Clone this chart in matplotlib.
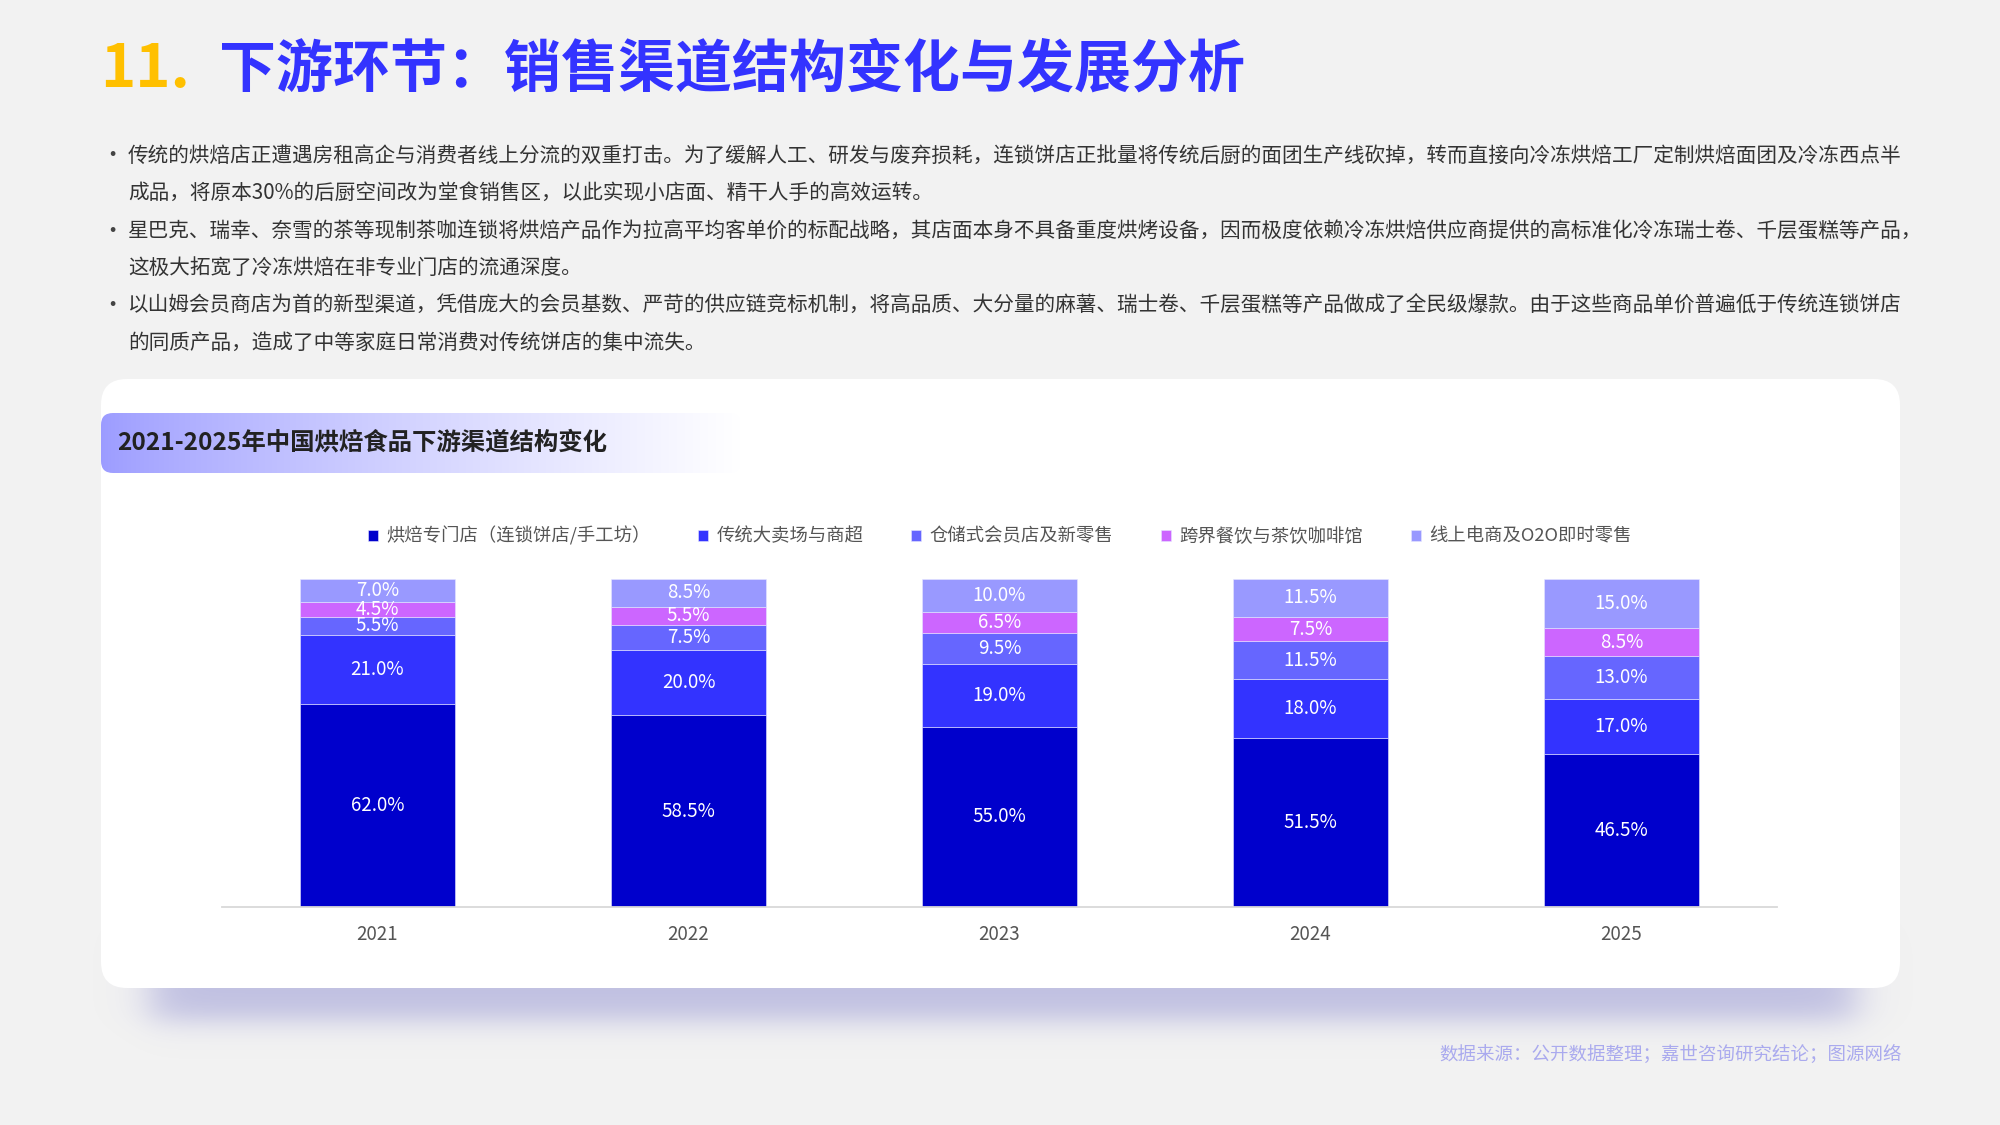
import matplotlib.pyplot as plt
import numpy as np
from matplotlib.patches import FancyBboxPatch

plt.rcParams['font.family'] = ['Noto Sans CJK SC', 'DejaVu Sans']

years = ['2021', '2022', '2023', '2024', '2025']
channels = ['烘焙专门店（连锁饼店/手工坊）', '传统大卖场与商超', '仓储式会员店及新零售',
            '跨界餐饮与茶饮咖啡馆', '线上电商及O2O即时零售']
bakery_store = [62.0, 58.5, 55.0, 51.5, 46.5]
supermarket = [21.0, 20.0, 19.0, 18.0, 17.0]
warehouse_club = [5.5, 7.5, 9.5, 11.5, 13.0]
cafe_tea = [4.5, 5.5, 6.5, 7.5, 8.5]
online_o2o = [7.0, 8.5, 10.0, 11.5, 15.0]
colors = ['#0000CC', '#3333FF', '#6666FF', '#CC66FF', '#9999FF']

bullets = [
    ['传统的烘焙店正遭遇房租高企与消费者线上分流的双重打击。为了缓解人工、研发与废弃损耗，连锁饼店正批量将传统后厨的面团生产线砍掉，转而直接向冷冻烘焙工厂定制烘焙面团及冷冻西点半',
     '成品，将原本30%的后厨空间改为堂食销售区，以此实现小店面、精干人手的高效运转。'],
    ['星巴克、瑞幸、奈雪的茶等现制茶咖连锁将烘焙产品作为拉高平均客单价的标配战略，其店面本身不具备重度烘烤设备，因而极度依赖冷冻烘焙供应商提供的高标准化冷冻瑞士卷、千层蛋糕等产品，',
     '这极大拓宽了冷冻烘焙在非专业门店的流通深度。'],
    ['以山姆会员商店为首的新型渠道，凭借庞大的会员基数、严苛的供应链竞标机制，将高品质、大分量的麻薯、瑞士卷、千层蛋糕等产品做成了全民级爆款。由于这些商品单价普遍低于传统连锁饼店',
     '的同质产品，造成了中等家庭日常消费对传统饼店的集中流失。'],
]

W, H = 2000, 1125
fig = plt.figure(figsize=(20, 11.25), dpi=100, facecolor='#F2F2F2')

# background layer in pixel coordinates (y down)
bg = fig.add_axes([0, 0, 1, 1])
bg.set_xlim(0, W)
bg.set_ylim(H, 0)
bg.axis('off')

# title
bg.text(100, 70, '11.', color='#FFC000', fontsize=43, fontweight='heavy', va='center', ha='left')
bg.text(219, 70, '下游环节：销售渠道结构变化与发展分析', color='#3333FF', fontsize=41,
        fontweight='heavy', va='center', ha='left')

# bullet paragraphs
line_y = [156, 193, 231, 268, 306, 343]
i = 0
for para in bullets:
    bg.text(101, line_y[i], '•', color='#444444', fontsize=16, va='center', ha='left')
    for line in para:
        bg.text(128, line_y[i], line, color='#333333', fontsize=14.85, va='center', ha='left')
        i += 1

# shadow under card
xs = np.arange(W)
ys = np.arange(H)
fx = 0.5 * (np.tanh((xs - 150) / 24) - np.tanh((xs - 1855) / 24))
fy = 0.5 * (np.tanh((ys - 930) / 20) - np.tanh((ys - 1020) / 16))
alpha = np.outer(fy, fx) * 0.5
shadow = np.zeros((H, W, 4))
shadow[..., 0] = 0.56
shadow[..., 1] = 0.56
shadow[..., 2] = 0.82
shadow[..., 3] = alpha
bg.imshow(shadow, extent=(0, W, H, 0), zorder=1, interpolation='bilinear')
bg.set_xlim(0, W)
bg.set_ylim(H, 0)
bg.set_aspect('auto')

# white card
card = FancyBboxPatch((101, 379), 1799, 609, boxstyle='round,pad=0,rounding_size=26',
                      facecolor='white', edgecolor='none', zorder=2)
bg.add_patch(card)

# header gradient band
band = FancyBboxPatch((101, 413), 640, 60, boxstyle='round,pad=0,rounding_size=12',
                      facecolor='none', edgecolor='none', zorder=3)
bg.add_patch(band)
t = np.linspace(0, 1, 400) ** 0.8
start = np.array([0.61, 0.61, 1.0])
grad = np.ones((1, 400, 3)) * (start + (1 - start) * t[:, None])[None, :, :]
im = bg.imshow(grad, extent=(101, 741, 473, 413), zorder=3, aspect='auto')
im.set_clip_path(band)
bg.set_xlim(0, W)
bg.set_ylim(H, 0)
bg.text(117, 443, '2021-2025年中国烘焙食品下游渠道结构变化', color='#222222', fontsize=17.6,
        fontweight='bold', va='center', ha='left', zorder=4)

# source note
bg.text(1902, 1054, '数据来源：公开数据整理；嘉世咨询研究结论；图源网络', color='#AAAAEE',
        fontsize=13.3, va='center', ha='right')

# chart
ax = fig.add_axes([222 / W, (H - 907) / H, 1555 / W, 328 / H])
ax.set_facecolor('none')
series = [bakery_store, supermarket, warehouse_club, cafe_tea, online_o2o]
x = np.arange(len(years))
bottom = np.zeros(len(years))
handles = []
for name, vals, c in zip(channels, series, colors):
    bars = ax.bar(x, vals, 0.5, bottom=bottom, color=c, edgecolor='#E6E6FF', linewidth=0.4,
                  label=name)
    ax.bar_label(bars, labels=[f'{v:.1f}%' for v in vals], label_type='center',
                 color='white', fontsize=13.5)
    bottom += np.array(vals)
    handles.append(bars)

ax.set_xlim(-0.5, 4.5)
ax.set_ylim(0, 100)
ax.set_xticks(x, years)
ax.tick_params(axis='x', length=0, pad=12, labelsize=13.5, labelcolor='#555555')
ax.set_yticks([])
for s in ['top', 'right', 'left']:
    ax.spines[s].set_visible(False)
ax.spines['bottom'].set_color('#D9D9D9')
ax.spines['bottom'].set_linewidth(1.3)

leg = ax.legend(handles=handles, loc='center', bbox_to_anchor=(0.5, 1.131), ncol=5,
                frameon=False, fontsize=13.2, handlelength=0.55, handleheight=0.55,
                handletextpad=0.45, columnspacing=2.6)
for txt in leg.get_texts():
    txt.set_color('#555555')

fig.savefig('out.png', dpi=100, facecolor=fig.get_facecolor())
